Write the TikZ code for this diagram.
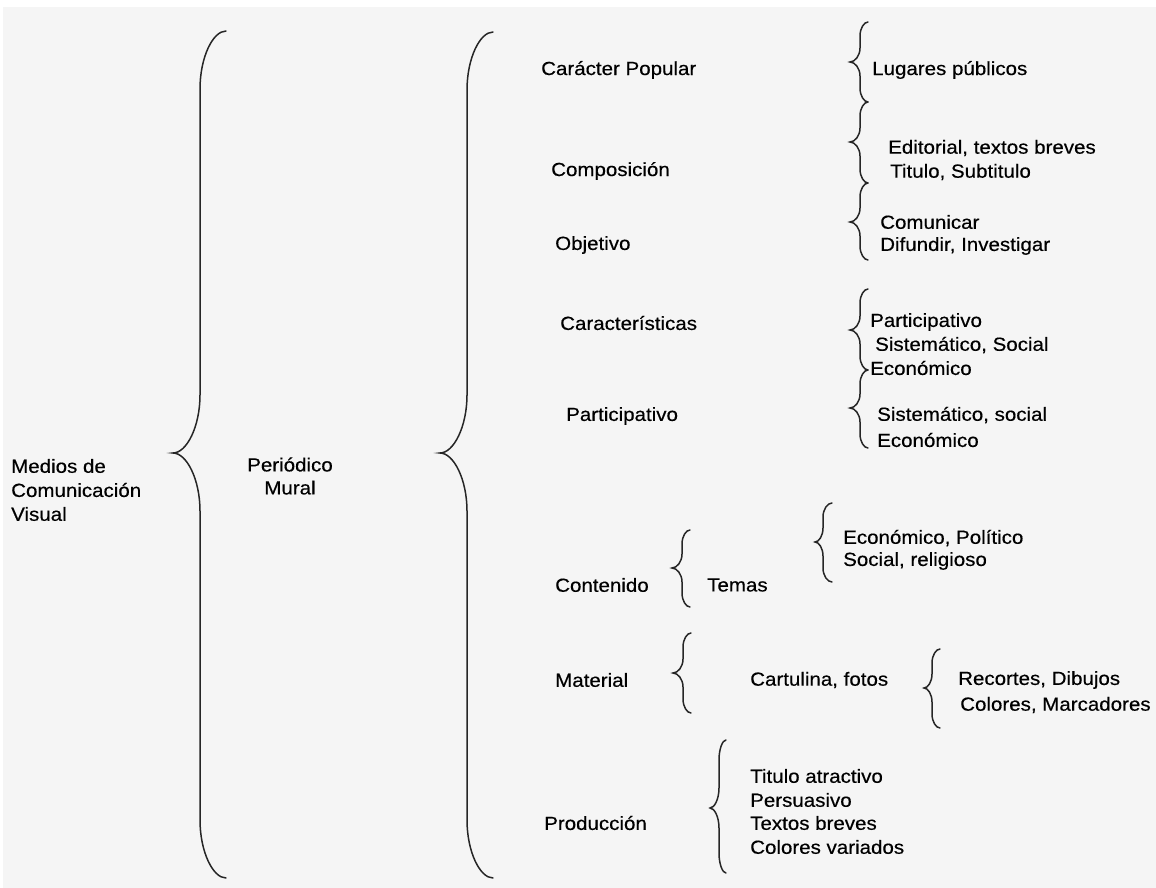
\documentclass[tikz,border=0pt]{standalone}
\usepackage{fontspec}
\setmainfont{Liberation Sans}[FakeStretch=1.08,FakeBold=0.4]
\newcommand{\cbr}[7]{% xe xl xt ytop ymid ybot r
\draw[braceline] (#1,#4) .. controls ({#2+0.5*(#1-#2)},#4) and (#2,{#4+0.45*#7}) .. (#2,{#4+#7})
 -- (#2,{#5-#7}) .. controls (#2,{#5-0.45*#7}) and ({#3+0.5*(#2-#3)},#5) .. (#3,#5)
 .. controls ({#3+0.5*(#2-#3)},#5) and (#2,{#5+0.45*#7}) .. (#2,{#5+#7})
 -- (#2,{#6-#7}) .. controls (#2,{#6-0.45*#7}) and ({#2+0.5*(#1-#2)},#6) .. (#1,#6);}
\begin{document}
\begin{tikzpicture}[x=1pt,y=-1pt,
  braceline/.style={draw=black!85,line width=1.5pt,line cap=round},
  lbl/.style={anchor=west,inner sep=0pt,text=black,font=\fontsize{19}{24}\selectfont},
  lblc/.style={align=center,inner sep=0pt,text=black,font=\fontsize{19}{23}\selectfont}]
\fill[white] (0,0) rectangle (1156,888);
\fill[black!4] (3,7) rectangle (1156,888);
\useasboundingbox (0,0) rectangle (1156,888);
% big braces
\cbr{226}{200}{173}{31}{453}{878}{58}
\cbr{493}{467}{440}{32}{453}{878}{58}
% small braces
\cbr{868}{860}{850}{22}{62}{102}{14}
\cbr{868}{860}{850}{102}{142}{183}{14}
\cbr{868}{860}{850}{183}{222}{260}{14}
\cbr{868}{860}{850}{289}{330}{370}{14}
\cbr{868}{860}{850}{370}{408}{448}{14}
\cbr{690}{682}{672}{530}{568}{607}{14}
\cbr{832}{823}{815}{503}{542}{582}{14}
\cbr{691}{683}{673}{633}{673}{713}{14}
\cbr{940}{932}{924}{649}{688}{728}{14}
\cbr{726}{719}{710}{740}{808}{873}{20}
% left
\node[lbl] (m1) at (11,466) {Medios de};
\node[lbl] (m2) at (11,490) {Comunicación};
\node[lbl] (m3) at (11,514) {Visual};
\node[lblc] (pm) at (290,476) {Periódico\\Mural};
% middle column
\node[lbl] (cp) at (541,70) {Carácter Popular};
\node[lbl] (co) at (551,171) {Composición};
\node[lbl] (ob) at (555,245) {Objetivo};
\node[lbl] (ca) at (560,323) {Características};
\node[lbl] (pa) at (566,416) {Participativo};
\node[lbl] (cn) at (555,585) {Contenido};
\node[lbl] (ma) at (555,680) {Material};
\node[lbl] (pr) at (544,823) {Producción};
% right column
\node[lbl] (lp) at (872,70) {Lugares públicos};
\node[lbl] (ed) at (888,148) {Editorial, textos breves};
\node[lbl] (ti) at (890,172) {Titulo, Subtitulo};
\node[lbl] (cm) at (880,222) {Comunicar};
\node[lbl] (di) at (880,246) {Difundir, Investigar};
\node[lbl] (p1) at (870,322) {Participativo};
\node[lbl] (s1) at (875,345) {Sistemático, Social};
\node[lbl] (e1) at (870,368) {Económico};
\node[lbl] (s2) at (877,415) {Sistemático, social};
\node[lbl] (e2) at (877,440) {Económico};
\node[lbl] (te) at (707,585) {Temas};
\node[lbl] (ep) at (843,538) {Económico, Político};
\node[lbl] (sr) at (843,561) {Social, religioso};
\node[lbl] (cf) at (750,680) {Cartulina, fotos};
\node[lbl] (rd) at (958,680) {Recortes, Dibujos};
\node[lbl] (cl) at (960,705) {Colores, Marcadores};
\node[lbl] (t1) at (750,776) {Titulo atractivo};
\node[lbl] (t2) at (750,800) {Persuasivo};
\node[lbl] (t3) at (750,823) {Textos breves};
\node[lbl] (t4) at (750,847) {Colores variados};
\end{tikzpicture}
\end{document}
